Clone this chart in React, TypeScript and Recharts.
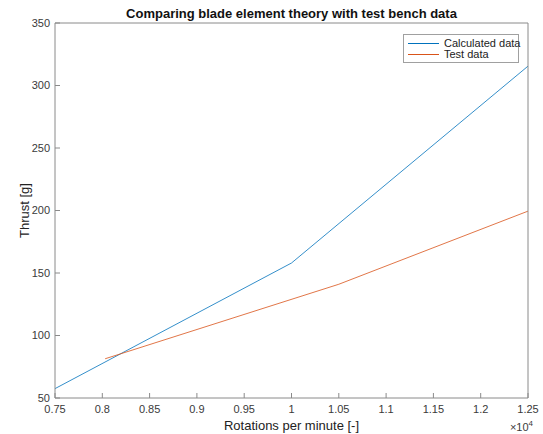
import { Label, Legend, Line, LineChart, XAxis, YAxis } from 'recharts';

// values
const calcRpm = [7500, 10000, 12500];
const calcThrust = [57.5, 158, 315.5];
const testRpm = [8030, 10500, 12500];
const testThrust = [81.4, 141, 199.5];

const xTicks = [7500, 8000, 8500, 9000, 9500, 10000, 10500, 11000, 11500, 12000, 12500];
const xTickLabels = ['0.75', '0.8', '0.85', '0.9', '0.95', '1', '1.05', '1.1', '1.15', '1.2', '1.25'];
const yTicks = [50, 100, 150, 200, 250, 300, 350];

const calcData = calcRpm.map((rpm, i) => ({ rpm, thrust: calcThrust[i] }));
const testData = testRpm.map((rpm, i) => ({ rpm, thrust: testThrust[i] }));

const axisGray = '#8a8a8a';
const textGray = '#3a3a3a';
const font = '"Liberation Sans", Arial, Helvetica, sans-serif';

function BoxLegend({ payload }: any) {
  return (
    <div
      style={{
        border: '1px solid #a0a0a0',
        background: '#fff',
        boxSizing: 'border-box',
        width: 116,
        height: 29,
        padding: '2.5px 0 0 4px',
        fontFamily: font,
        fontSize: 11,
        color: '#222',
        whiteSpace: 'nowrap',
      }}
    >
      {(payload || []).map((entry: any) => (
        <div key={entry.value} style={{ display: 'flex', alignItems: 'center', height: 11.5 }}>
          <span style={{ flex: 'none', width: 31, height: 0, borderTop: `1px solid ${entry.color}`, marginRight: 5 }} />
          <span style={{ lineHeight: '11px' }}>{entry.value}</span>
        </div>
      ))}
    </div>
  );
}

export default function App() {
  return (
    <div style={{ position: 'absolute', left: 0, top: 0, background: '#fff' }}>
      <LineChart
        width={543}
        height={434}
        margin={{ top: 22, right: 14, bottom: 0, left: 0 }}
        style={{ fontFamily: font }}
      >
        <XAxis
          xAxisId="b"
          dataKey="rpm"
          type="number"
          domain={[7500, 12500]}
          ticks={xTicks}
          allowDataOverflow
          height={36}
          tickSize={-5}
          tickMargin={12}
          stroke={axisGray}
          tick={{ fill: textGray, fontSize: 11 }}
          tickFormatter={(v: number) => xTickLabels[xTicks.indexOf(v)] ?? String(v)}
        >
          <Label value="Rotations per minute [-]" position="insideBottom" offset={4} fill="#222" fontSize={13} />
          <Label
            content={({ viewBox }: any) => (
              <text x={viewBox.x + viewBox.width + 5} y={viewBox.y + 33} textAnchor="end" fill={textGray} fontSize={11}>
                ×10<tspan dy={-5} fontSize={8}>4</tspan>
              </text>
            )}
          />
        </XAxis>
        <XAxis
          xAxisId="t"
          orientation="top"
          type="number"
          domain={[7500, 12500]}
          ticks={xTicks}
          allowDataOverflow
          height={1}
          tickSize={-5}
          tick={false}
          stroke={axisGray}
        >
          <Label
            content={({ viewBox }: any) => (
              <text
                x={viewBox.x + viewBox.width / 2}
                y={viewBox.y - 4}
                textAnchor="middle"
                fill="#111"
                fontSize={13}
                fontWeight="bold"
              >
                Comparing blade element theory with test bench data
              </text>
            )}
          />
        </XAxis>
        <YAxis
          yAxisId="l"
          type="number"
          domain={[50, 350]}
          ticks={yTicks}
          allowDataOverflow
          width={55}
          tickSize={-5}
          tickMargin={10}
          stroke={axisGray}
          tick={{ fill: textGray, fontSize: 11 }}
        >
          <Label
            content={({ viewBox }: any) => (
              <text
                x={24}
                y={viewBox.y + viewBox.height / 2}
                transform={`rotate(-90, 24, ${viewBox.y + viewBox.height / 2})`}
                textAnchor="middle"
                dominantBaseline="central"
                fill="#222"
                fontSize={13}
              >
                Thrust [g]
              </text>
            )}
          />
        </YAxis>
        <YAxis
          yAxisId="r"
          orientation="right"
          type="number"
          domain={[50, 350]}
          ticks={yTicks}
          allowDataOverflow
          width={1}
          tickSize={-5}
          tick={false}
          stroke={axisGray}
        />
        <Legend
          layout="vertical"
          align="center"
          verticalAlign="middle"
          wrapperStyle={{ left: 403, top: 34, width: 116 }}
          content={BoxLegend}
        />
        <Line
          xAxisId="b"
          yAxisId="l"
          data={calcData}
          dataKey="thrust"
          name="Calculated data"
          stroke="#0072BD"
          strokeWidth={0.8}
          dot={false}
          type="linear"
          isAnimationActive={false}
        />
        <Line
          xAxisId="b"
          yAxisId="l"
          data={testData}
          dataKey="thrust"
          name="Test data"
          stroke="#D95319"
          strokeWidth={0.8}
          dot={false}
          type="linear"
          isAnimationActive={false}
        />
      </LineChart>
    </div>
  );
}
